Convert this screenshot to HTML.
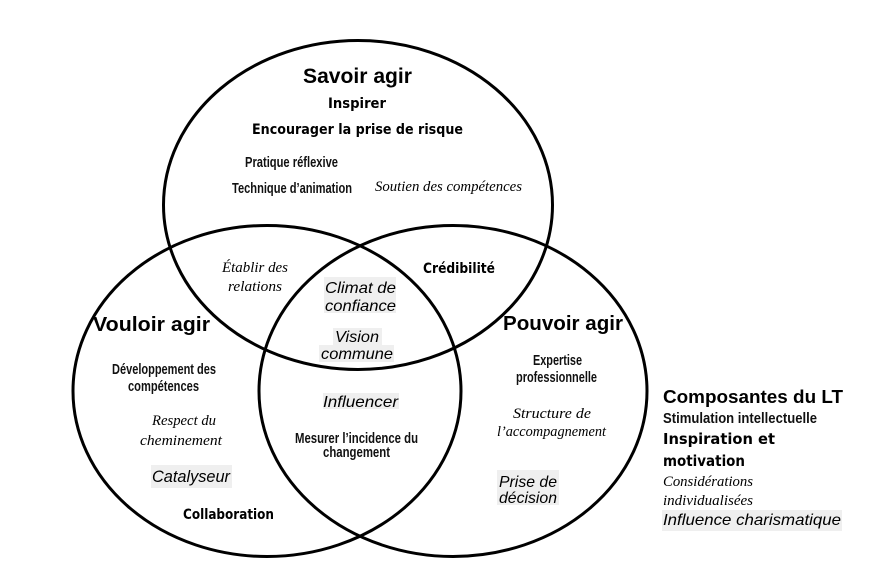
<!DOCTYPE html>
<html><head><meta charset="utf-8"><style>
html,body{margin:0;padding:0;background:#fff;}
svg{display:block;}
.h{font-family:"Liberation Sans",sans-serif;font-weight:bold;fill:#000;}
.c{font-family:"DejaVu Sans","Liberation Sans",sans-serif;font-weight:bold;fill:#000;}
.n{font-family:"Liberation Sans",sans-serif;font-weight:bold;fill:#111;}
.s{font-family:"Liberation Serif",serif;font-style:italic;fill:#000;}
.i{font-family:"Liberation Sans",sans-serif;font-style:italic;fill:#000;}
</style></head><body>
<svg width="879" height="569" viewBox="0 0 879 569" xmlns="http://www.w3.org/2000/svg">
<rect width="879" height="569" fill="#fff"/>
<g fill="#efefef">
<rect x="324" y="277" width="72" height="36"/>
<rect x="333" y="328" width="49" height="17"/>
<rect x="319" y="345" width="75" height="17"/>
<rect x="323" y="393" width="76" height="16"/>
<rect x="151" y="465" width="81" height="23"/>
<rect x="497" y="470" width="62" height="35"/>
<rect x="662" y="510" width="180" height="21"/>
</g>
<g fill="none" stroke="#000" stroke-width="3">
<ellipse cx="358" cy="205" rx="194.5" ry="164.5"/>
<ellipse cx="267" cy="391" rx="194" ry="165.5"/>
<ellipse cx="453" cy="391" rx="194" ry="165.5"/>
</g>
<text class="h" x="303" y="83" font-size="21" textLength="109" lengthAdjust="spacingAndGlyphs">Savoir agir</text>
<text class="c" x="328" y="108" font-size="14" textLength="58" lengthAdjust="spacingAndGlyphs">Inspirer</text>
<text class="c" x="252" y="134" font-size="14" textLength="211" lengthAdjust="spacingAndGlyphs">Encourager la prise de risque</text>
<text class="n" x="245" y="167" font-size="15" textLength="93" lengthAdjust="spacingAndGlyphs">Pratique réflexive</text>
<text class="n" x="232" y="193" font-size="15" textLength="120" lengthAdjust="spacingAndGlyphs">Technique d’animation</text>
<text class="s" x="375" y="191" font-size="15" textLength="147" lengthAdjust="spacingAndGlyphs">Soutien des compétences</text>

<text class="s" x="222" y="272" font-size="15" textLength="66" lengthAdjust="spacingAndGlyphs">Établir des</text>
<text class="s" x="228" y="291" font-size="15" textLength="54" lengthAdjust="spacingAndGlyphs">relations</text>
<text class="c" x="423" y="273" font-size="14" textLength="72" lengthAdjust="spacingAndGlyphs">Crédibilité</text>
<text class="i" x="325" y="293" font-size="16" textLength="71" lengthAdjust="spacingAndGlyphs">Climat de</text>
<text class="i" x="325" y="311" font-size="16" textLength="71" lengthAdjust="spacingAndGlyphs">confiance</text>
<text class="h" x="93" y="331" font-size="20" textLength="117" lengthAdjust="spacingAndGlyphs">Vouloir agir</text>
<text class="h" x="503" y="330" font-size="20" textLength="120" lengthAdjust="spacingAndGlyphs">Pouvoir agir</text>
<text class="i" x="335" y="342" font-size="16" textLength="44" lengthAdjust="spacingAndGlyphs">Vision</text>
<text class="i" x="321" y="359" font-size="16" textLength="72" lengthAdjust="spacingAndGlyphs">commune</text>
<text class="n" x="533" y="365" font-size="15" textLength="49" lengthAdjust="spacingAndGlyphs">Expertise</text>
<text class="n" x="516" y="382" font-size="15" textLength="81" lengthAdjust="spacingAndGlyphs">professionnelle</text>
<text class="n" x="112" y="374" font-size="15" textLength="104" lengthAdjust="spacingAndGlyphs">Développement des</text>
<text class="n" x="128" y="391" font-size="15" textLength="71" lengthAdjust="spacingAndGlyphs">compétences</text>
<text class="i" x="323" y="407" font-size="16" textLength="75" lengthAdjust="spacingAndGlyphs">Influencer</text>
<text class="s" x="152" y="425" font-size="15" textLength="64" lengthAdjust="spacingAndGlyphs">Respect du</text>
<text class="s" x="140" y="445" font-size="15" textLength="82" lengthAdjust="spacingAndGlyphs">cheminement</text>
<text class="s" x="513" y="418" font-size="15" textLength="78" lengthAdjust="spacingAndGlyphs">Structure de</text>
<text class="s" x="497" y="436" font-size="15" textLength="109" lengthAdjust="spacingAndGlyphs">l’accompagnement</text>
<text class="n" x="295" y="443" font-size="15" textLength="123" lengthAdjust="spacingAndGlyphs">Mesurer l’incidence du</text>
<text class="n" x="323" y="457" font-size="15" textLength="67" lengthAdjust="spacingAndGlyphs">changement</text>
<text class="i" x="152" y="482" font-size="17" textLength="78" lengthAdjust="spacingAndGlyphs">Catalyseur</text>
<text class="i" x="499" y="487" font-size="16" textLength="58" lengthAdjust="spacingAndGlyphs">Prise de</text>
<text class="i" x="499" y="503" font-size="16" textLength="58" lengthAdjust="spacingAndGlyphs">décision</text>
<text class="c" x="183" y="519" font-size="14" textLength="91" lengthAdjust="spacingAndGlyphs">Collaboration</text>

<text class="h" x="663" y="403" font-size="18" textLength="180" lengthAdjust="spacingAndGlyphs">Composantes du LT</text>
<text class="n" x="663" y="423" font-size="15" textLength="154" lengthAdjust="spacingAndGlyphs">Stimulation intellectuelle</text>
<text class="c" x="663" y="444" font-size="15" textLength="112" lengthAdjust="spacingAndGlyphs">Inspiration et</text>
<text class="c" x="663" y="466" font-size="15" textLength="82" lengthAdjust="spacingAndGlyphs">motivation</text>
<text class="s" x="663" y="486" font-size="15" textLength="90" lengthAdjust="spacingAndGlyphs">Considérations</text>
<text class="s" x="663" y="505" font-size="15" textLength="90" lengthAdjust="spacingAndGlyphs">individualisées</text>
<text class="i" x="663" y="525" font-size="16" textLength="178" lengthAdjust="spacingAndGlyphs">Influence charismatique</text>
</svg>
</body></html>
